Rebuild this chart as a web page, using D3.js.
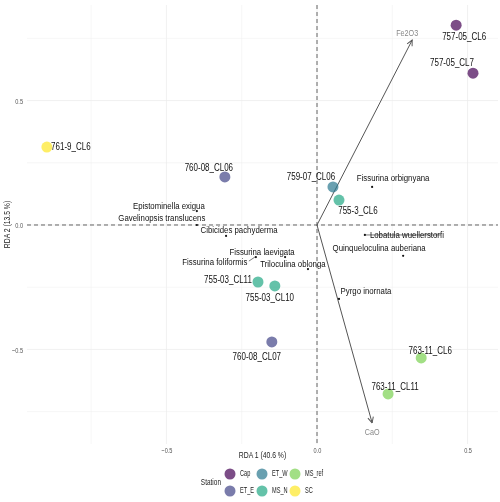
<!DOCTYPE html>
<html>
<head>
<meta charset="utf-8">
<script src="https://cdn.jsdelivr.net/npm/d3@7"></script>
<style>
  body { margin: 0; background: #fff; }
  svg { will-change: transform; }
  svg text { font-family: "Liberation Sans", Arial, sans-serif; }
</style>
</head>
<body>
<div id="chart"></div>
<script>
// station scores (RDA1, RDA2)
var siteNames = ["757-05_CL6", "757-05_CL7", "761-9_CL6", "760-08_CL06", "759-07_CL06", "755-3_CL6",
                 "755-03_CL11", "755-03_CL10", "760-08_CL07", "763-11_CL6", "763-11_CL11"];
var siteStation = ["Cap", "Cap", "SC", "ET_E", "ET_W", "MS_N", "MS_N", "MS_N", "ET_E", "MS_ref", "MS_ref"];
var siteX = [0.462, 0.518, -0.897, -0.306, 0.053, 0.073, -0.196, -0.140, -0.150, 0.346, 0.236];
var siteY = [0.803, 0.610, 0.313, 0.193, 0.153, 0.100, -0.229, -0.245, -0.470, -0.534, -0.679];

// species scores
var speciesNames = ["Epistominella exigua", "Gavelinopsis translucens", "Cibicides pachyderma",
                    "Fissurina laevigata", "Fissurina foliformis", "Triloculina oblonga",
                    "Fissurina orbignyana", "Lobatula wuellerstorfi", "Quinqueloculina auberiana",
                    "Pyrgo inornata"];
var speciesX = [-0.399, -0.399, -0.302, -0.106, -0.203, -0.030, 0.183, 0.159, 0.286, 0.073];
var speciesY = [0.056, 0.000, -0.044, -0.129, -0.129, -0.177, 0.153, -0.040, -0.124, -0.297];

// environmental vectors
var envNames = ["Fe2O3", "CaO"];
var envX = [0.316, 0.183];
var envY = [0.743, -0.795];

var stations = ["Cap", "ET_E", "ET_W", "MS_N", "MS_ref", "SC"];
var stationColors = ["#440154", "#414487", "#2A788E", "#22A884", "#7AD151", "#FDE725"];
var tickValues = [-0.5, 0, 0.5];
var minorValues = [-0.75, -0.25, 0.25, 0.75];

// label offsets in px (repelled label placement)
var siteLabelOff = [[8, 11], [-21, -11], [24, -1], [-16, -9], [-22, -10], [19, 10],
                    [-30, -2], [-5, 12], [-15, 15], [9, -7], [7, -7]];
var speciesLabelOff = [[-28, -6], [-35, -7], [13, -6], [-23, -6], [-41, 4], [-15, -6],
                       [21, -9], [42, 0], [-24, -8], [27, -8]];

var W = 500, H = 502;
var pLeft = 27, pRight = 498, pTop = 5, pBottom = 444;
var SX = 0.8; // narrow text look

var svg = d3.select("#chart").append("svg")
    .attr("width", W).attr("height", H);

var x = d3.scaleLinear().domain([-0.963, 0.601]).range([pLeft, pRight]);
var y = d3.scaleLinear().domain([-0.880, 0.884]).range([pBottom, pTop]);
var color = d3.scaleOrdinal().domain(stations).range(stationColors);

// narrow text helper
function ntext(g, tx, ty, str, size, fill, anchor, sx) {
  return g.append("text")
    .attr("transform", `translate(${tx},${ty}) scale(${sx || SX},1)`)
    .attr("text-anchor", anchor || "middle")
    .attr("fill", fill)
    .style("font-size", size + "px")
    .text(str);
}

// grid
var grid = svg.append("g");
grid.selectAll(".vg").data(minorValues.concat(tickValues)).join("line")
    .attr("x1", d => x(d)).attr("x2", d => x(d))
    .attr("y1", pTop).attr("y2", pBottom)
    .attr("stroke", "#ececec").attr("stroke-width", d => tickValues.includes(d) ? 0.8 : 0.5);
grid.selectAll(".hg").data(minorValues.concat(tickValues)).join("line")
    .attr("y1", d => y(d)).attr("y2", d => y(d))
    .attr("x1", pLeft).attr("x2", pRight)
    .attr("stroke", "#ececec").attr("stroke-width", d => tickValues.includes(d) ? 0.8 : 0.5);

// axes (labels only)
var fmt = d3.format(".1f");
var xAxis = svg.append("g").attr("transform", `translate(0,${pBottom})`)
    .call(d3.axisBottom(x).tickValues(tickValues).tickFormat(fmt).tickSize(0).tickPadding(3));
var yAxis = svg.append("g").attr("transform", `translate(${pLeft},0)`)
    .call(d3.axisLeft(y).tickValues(tickValues).tickFormat(fmt).tickSize(0).tickPadding(4));
[xAxis, yAxis].forEach(function(a) {
  a.select(".domain").remove();
  a.selectAll("text").attr("fill", "#555").style("font-size", "8px")
    .style("font-family", "'Liberation Sans', sans-serif");
});
// compress tick labels horizontally
xAxis.selectAll(".tick text").attr("transform", "scale(0.7,1)");
yAxis.selectAll(".tick text").attr("transform", "scale(0.7,1)").attr("x", -4 / 0.7);

ntext(svg, (pLeft + pRight) / 2, 458, "RDA 1 (40.6 %)", 9.5, "#222", "middle", 0.72);
svg.append("text")
    .attr("transform", `translate(10,${(pTop + pBottom) / 2}) rotate(-90) scale(0.72,1)`)
    .attr("text-anchor", "middle").attr("fill", "#222")
    .style("font-size", "9.5px").text("RDA 2 (13.5 %)");

// zero lines
svg.append("line")
    .attr("x1", pLeft).attr("x2", pRight).attr("y1", y(0)).attr("y2", y(0))
    .attr("stroke", "#555").attr("stroke-width", 0.9).attr("stroke-dasharray", "4,3");
svg.append("line")
    .attr("x1", x(0)).attr("x2", x(0)).attr("y1", pTop).attr("y2", pBottom)
    .attr("stroke", "#555").attr("stroke-width", 0.9).attr("stroke-dasharray", "4,3");

// arrows
svg.append("defs").append("marker")
    .attr("id", "arr").attr("viewBox", "0 0 10 10")
    .attr("refX", 9).attr("refY", 5)
    .attr("markerWidth", 7).attr("markerHeight", 7)
    .attr("markerUnits", "userSpaceOnUse")
    .attr("orient", "auto")
  .append("path").attr("d", "M1,1 L9,5 L1,9")
    .attr("fill", "none").attr("stroke", "#555").attr("stroke-width", 1.4);

var envData = envNames.map((n, i) => ({name: n, x: envX[i], y: envY[i]}));
svg.selectAll(".env").data(envData).join("line")
    .attr("x1", x(0)).attr("y1", y(0))
    .attr("x2", d => x(d.x)).attr("y2", d => y(d.y))
    .attr("stroke", "#555").attr("stroke-width", 1)
    .attr("marker-end", "url(#arr)");
envData.forEach(function(d) {
  ntext(svg, x(d.x) - (d.y > 0 ? 5 : 0), y(d.y) + (d.y > 0 ? -4 : 12), d.name, 9, "#888");
});

// species points
var spData = speciesNames.map((n, i) => ({name: n, x: speciesX[i], y: speciesY[i], off: speciesLabelOff[i]}));
svg.selectAll(".sp").data(spData).join("circle")
    .attr("cx", d => x(d.x)).attr("cy", d => y(d.y)).attr("r", 1.1).attr("fill", "#111");

// site points
var siteData = siteNames.map((n, i) => ({name: n, st: siteStation[i], x: siteX[i], y: siteY[i], off: siteLabelOff[i]}));
svg.selectAll(".site").data(siteData).join("circle")
    .attr("cx", d => x(d.x)).attr("cy", d => y(d.y)).attr("r", 5.5)
    .attr("fill", d => color(d.st)).attr("fill-opacity", 0.7);

// species labels (one with a leader segment)
spData.forEach(function(d) {
  if (Math.abs(d.off[0]) > 38) {
    svg.append("line")
      .attr("x1", x(d.x) + d.off[0] + 34).attr("y1", y(d.y) + d.off[1])
      .attr("x2", x(d.x) - 1).attr("y2", y(d.y))
      .attr("stroke", "#222").attr("stroke-width", 0.6);
  }
  ntext(svg, x(d.x) + d.off[0], y(d.y) + d.off[1] + 3.5, d.name, 9.8, "#111");
});

siteData.forEach(function(d) {
  ntext(svg, x(d.x) + d.off[0], y(d.y) + d.off[1] + 3.5, d.name, 10, "#111");
});

// legend
var leg = svg.append("g");
ntext(leg, 221, 485, "Station", 9, "#222", "end", 0.72);
var legX = [230, 262, 295], legY = [474, 491];
stations.forEach(function(s, i) {
  var cx = legX[Math.floor(i / 2)], cy = legY[i % 2];
  leg.append("circle").attr("cx", cx).attr("cy", cy).attr("r", 5.5)
    .attr("fill", color(s)).attr("fill-opacity", 0.7);
  ntext(leg, cx + 10, cy + 2, s, 8.5, "#222", "start", 0.66);
});
</script>
</body>
</html>
